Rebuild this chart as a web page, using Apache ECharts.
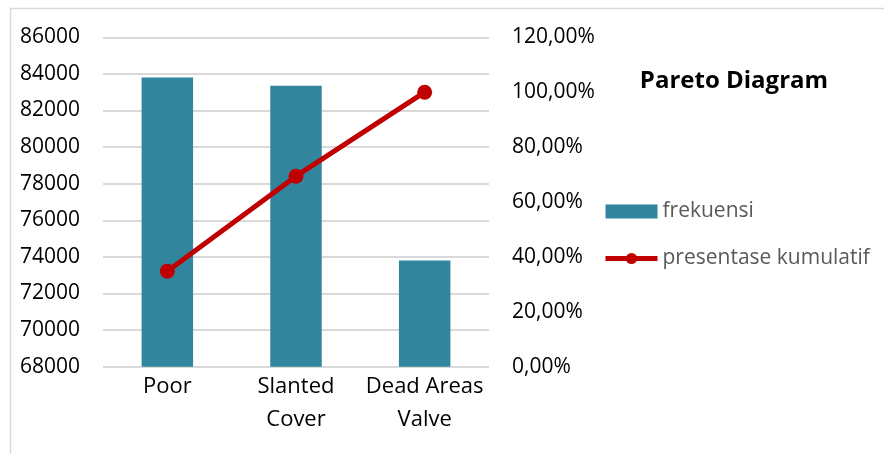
<!DOCTYPE html>
<html>
<head>
<meta charset="utf-8">
<script src="https://cdn.jsdelivr.net/npm/echarts@6/dist/echarts.min.js"></script>
<style>
  html, body { margin: 0; padding: 0; background: #ffffff; }
  #chart { width: 884px; height: 454px; }
</style>
</head>
<body>
<div id="chart"></div>
<script>
// Defect categories and counts
const categories = ['Poor', 'Slanted\nCover', 'Dead Areas\nValve'];
const frekuensi = [83800, 83350, 73800];
// Cumulative share of the total, as a fraction
const kumulatif = [0.348, 0.694, 1.0];

const FONT = '"Open Sans", sans-serif';
const RED = '#c00000';
const TEAL = '#31859c';

const chart = echarts.init(document.getElementById('chart'), null, { renderer: 'canvas' });

chart.setOption({
  animation: false,
  backgroundColor: '#ffffff',
  textStyle: { fontFamily: FONT },
  title: {
    text: 'Pareto Diagram',
    left: 729,
    top: 64,
    textAlign: 'center',
    textStyle: { fontFamily: FONT, fontSize: 24, fontWeight: 'bold', color: '#000000' }
  },
  legend: {
    orient: 'vertical',
    left: 603,
    top: 201,
    padding: 0,
    itemWidth: 52,
    itemHeight: 14,
    itemGap: 26,
    textStyle: { fontFamily: FONT, fontSize: 21, color: '#595959' },
    data: [
      { name: 'frekuensi', icon: 'rect' },
      { name: 'presentase kumulatif', lineStyle: { width: 5, color: RED } }
    ]
  },
  graphic: [
    {
      type: 'polyline',
      shape: { points: [[10.5, 460], [10.5, 8.5], [890, 8.5]] },
      style: { stroke: '#d9d9d9', lineWidth: 1.5, fill: null },
      silent: true
    }
  ],
  grid: { left: 103, right: 395, top: 37.3, bottom: 87.3, containLabel: false },
  xAxis: {
    type: 'category',
    data: categories,
    axisLine: { show: false },
    axisTick: { show: false },
    axisLabel: {
      fontFamily: FONT, fontSize: 22, color: '#000000',
      lineHeight: 33, margin: 4, interval: 0
    }
  },
  yAxis: [
    {
      type: 'value',
      min: 68000, max: 86000, interval: 2000,
      axisLine: { show: false },
      axisTick: { show: false },
      axisLabel: {
        fontFamily: FONT, fontSize: 21, color: '#000000', margin: 23,
        formatter: v => String(v)
      },
      splitLine: { lineStyle: { color: '#d9d9d9', width: 2 } }
    },
    {
      type: 'value',
      min: 0, max: 1.2, interval: 0.2,
      position: 'right',
      axisLine: { show: false },
      axisTick: { show: false },
      splitLine: { show: false },
      axisLabel: {
        fontFamily: FONT, fontSize: 21, color: '#000000', margin: 23,
        formatter: v => (v * 100).toFixed(2).replace('.', ',') + '%'
      }
    }
  ],
  series: [
    {
      name: 'frekuensi',
      type: 'bar',
      data: frekuensi,
      barWidth: '40%',
      itemStyle: { color: TEAL }
    },
    {
      name: 'presentase kumulatif',
      type: 'line',
      yAxisIndex: 1,
      data: kumulatif,
      symbol: 'circle',
      symbolSize: 15,
      itemStyle: { color: RED },
      lineStyle: { color: RED, width: 5 }
    }
  ]
});
</script>
</body>
</html>
